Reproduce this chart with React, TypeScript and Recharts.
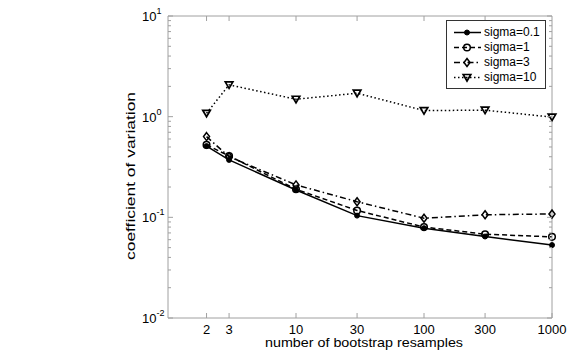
import { LineChart, Line, XAxis, YAxis, Legend } from "recharts";

const resamples = [2, 3, 10, 30, 100, 300, 1000];
const sigma01 = [0.51, 0.372, 0.187, 0.104, 0.078, 0.0645, 0.053];
const sigma1 = [0.524, 0.407, 0.19, 0.117, 0.08, 0.068, 0.064];
const sigma3 = [0.634, 0.4, 0.21, 0.143, 0.098, 0.106, 0.108];
const sigma10 = [1.08, 2.07, 1.49, 1.71, 1.15, 1.16, 0.99];

const xTicks = [2, 3, 10, 30, 100, 300, 1000];
const yMajor = [0.01, 0.1, 1, 10];
const yMinor = [
  0.02, 0.03, 0.04, 0.05, 0.06, 0.07, 0.08, 0.09,
  0.2, 0.3, 0.4, 0.5, 0.6, 0.7, 0.8, 0.9,
  2, 3, 4, 5, 6, 7, 8, 9,
];
const yTicks = [...yMajor, ...yMinor].sort((a, b) => a - b);

const data = resamples.map((n, i) => ({
  n,
  s01: sigma01[i],
  s1: sigma1[i],
  s3: sigma3[i],
  s10: sigma10[i],
}));

const FONT = "'Liberation Sans', Arial, Helvetica, sans-serif";
const GRAY = "#a0a0a0";

const isMajor = (v: number) => yMajor.some((m) => Math.abs(m - v) < 1e-9);

const LeftTick = ({ x, y, payload }: any) => {
  const v = payload.value;
  const major = isMajor(v);
  const exp = Math.round(Math.log10(v));
  return (
    <g>
      <line x1={x} x2={x + (major ? 5 : 3)} y1={y} y2={y} stroke={GRAY} />
      {major && (
        <text x={x - 26} y={y} dy={5} fontSize={13} fontFamily={FONT} fill="#000">
          10
          <tspan dy={-7} fontSize={9}>
            {exp}
          </tspan>
        </text>
      )}
    </g>
  );
};

const RightTick = ({ x, y, payload }: any) => {
  const major = isMajor(payload.value);
  return <line x1={x} x2={x - (major ? 5 : 3)} y1={y} y2={y} stroke={GRAY} />;
};

const BottomTick = ({ x, y, payload }: any) => (
  <g>
    <line x1={x} x2={x} y1={y} y2={y - 5} stroke={GRAY} />
    <text x={x} y={y} dy={15.5} textAnchor="middle" fontSize={13} fontFamily={FONT} fill="#000">
      {payload.value}
    </text>
  </g>
);

const TopTick = ({ x, y }: any) => <line x1={x} x2={x} y1={y} y2={y + 5} stroke={GRAY} />;

const Dot = ({ cx, cy }: any) => <circle cx={cx} cy={cy} r={2.5} fill="#000" stroke="#000" />;
const Ring = ({ cx, cy }: any) => (
  <circle cx={cx} cy={cy} r={3.3} fill="none" stroke="#000" strokeWidth={1.5} />
);
const Diamond = ({ cx, cy }: any) => (
  <path
    d={`M${cx},${cy - 4} L${cx + 3},${cy} L${cx},${cy + 4} L${cx - 3},${cy} Z`}
    fill="none"
    stroke="#000"
    strokeWidth={1.5}
  />
);
const Tri = ({ cx, cy }: any) => (
  <path
    d={`M${cx - 3.8},${cy - 3} L${cx + 3.8},${cy - 3} L${cx},${cy + 3.5} Z`}
    fill="none"
    stroke="#000"
    strokeWidth={1.7}
  />
);

const series = [
  { key: "s01", name: "sigma=0.1", dash: undefined, Marker: Dot },
  { key: "s1", name: "sigma=1", dash: "5 3", Marker: Ring },
  { key: "s3", name: "sigma=3", dash: "6 3 1.5 3", Marker: Diamond },
  { key: "s10", name: "sigma=10", dash: "1.5 2.5", Marker: Tri },
];

const LegendBox = () => (
  <div
    style={{
      border: "1px solid #333",
      background: "#fff",
      width: 98,
      padding: "4px 0 3px 0",
      fontFamily: FONT,
      fontSize: 12,
      color: "#000",
    }}
  >
    {series.map((s) => (
      <div key={s.key} style={{ display: "flex", alignItems: "center", height: 15 }}>
        <svg width={36} height={15} style={{ display: "block" }}>
          <line x1={7} x2={34} y1={7.5} y2={7.5} stroke="#000" strokeWidth={1.5} strokeDasharray={s.dash} />
          <s.Marker cx={20} cy={7.5} />
        </svg>
        <span style={{ marginLeft: 1, lineHeight: "15px" }}>{s.name}</span>
      </div>
    ))}
  </div>
);

export default function App() {
  return (
    <div style={{ position: "absolute", left: 0, top: 0, background: "#fff" }}>
      <LineChart width={573} height={352} data={data} margin={{ top: 0, right: 0, bottom: 0, left: 0 }}>
        <XAxis
          dataKey="n"
          type="number"
          scale="log"
          domain={[1, 1000]}
          ticks={xTicks}
          interval={0}
          height={34}
          tickSize={0}
          tickMargin={0}
          axisLine={{ stroke: GRAY }}
          tick={<BottomTick />}
          label={{
            content: ({ viewBox }: any) => (
              <text
                x={viewBox.x + viewBox.width / 2 + 4}
                y={viewBox.y + 29}
                textAnchor="middle"
                fontSize={13}
                textLength={198}
                lengthAdjust="spacingAndGlyphs"
                fontFamily={FONT}
                fill="#000"
              >
                number of bootstrap resamples
              </text>
            ),
          }}
        />
        <XAxis
          xAxisId="top"
          dataKey="n"
          type="number"
          scale="log"
          domain={[1, 1000]}
          ticks={xTicks.slice(0, -1)}
          interval={0}
          orientation="top"
          height={16}
          tickSize={0}
          tickMargin={0}
          axisLine={{ stroke: GRAY }}
          tick={<TopTick />}
        />
        <YAxis
          yAxisId="left"
          type="number"
          scale="log"
          domain={[0.01, 10]}
          allowDataOverflow
          ticks={yTicks}
          interval={0}
          width={168}
          tickSize={0}
          tickMargin={0}
          axisLine={{ stroke: GRAY }}
          tick={<LeftTick />}
          label={{
            content: ({ viewBox }: any) => {
              const cx = 131;
              const cy = viewBox.y + viewBox.height / 2 + 9;
              return (
                <text
                  x={cx}
                  y={cy}
                  transform={`rotate(-90 ${cx} ${cy})`}
                  textAnchor="middle"
                  dominantBaseline="central"
                  fontSize={12}
                  textLength={168}
                  lengthAdjust="spacingAndGlyphs"
                  fontFamily={FONT}
                  fill="#000"
                >
                  coefficient of variation
                </text>
              );
            },
          }}
        />
        <YAxis
          yAxisId="right"
          orientation="right"
          type="number"
          scale="log"
          domain={[0.01, 10]}
          allowDataOverflow
          ticks={yTicks}
          interval={0}
          width={21}
          tickSize={0}
          tickMargin={0}
          axisLine={{ stroke: GRAY }}
          tick={<RightTick />}
        />
        <Legend
          layout="vertical"
          align="center"
          verticalAlign="middle"
          content={<LegendBox />}
          wrapperStyle={{ left: 446, top: 20, width: 100 }}
        />
        {series.map((s) => (
          <Line
            key={s.key}
            yAxisId="left"
            type="linear"
            dataKey={s.key}
            name={s.name}
            stroke="#000"
            strokeWidth={1.5}
            strokeDasharray={s.dash}
            dot={(p: any) => <s.Marker key={`${s.key}${p.index}`} cx={p.cx} cy={p.cy} />}
            activeDot={false}
            isAnimationActive={false}
          />
        ))}
      </LineChart>
    </div>
  );
}
